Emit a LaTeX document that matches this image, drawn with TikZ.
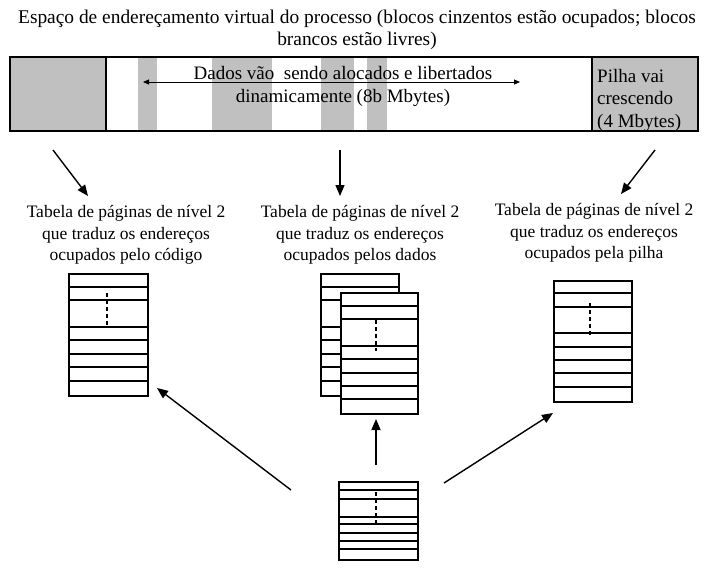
\documentclass[tikz,border=0pt]{standalone}
\usepackage{fontspec}
\setmainfont{Liberation Serif}
\usetikzlibrary{arrows.meta}
\definecolor{occupied}{RGB}{192,192,192}
\begin{document}
\begin{tikzpicture}[x=1pt,y=-1pt,
  txt/.style={font=\fontsize{17.5}{22}\selectfont, align=center, inner sep=0pt},
  frame/.style={draw=black, line width=1.8pt, inner sep=0pt, anchor=north west},
  tbl/.style={draw=black, line width=1.7pt, fill=white, inner sep=0pt, anchor=north west},
  row/.style={line width=1.7pt},
  gapline/.style={line width=1.1pt, dash pattern=on 4pt off 3pt},
  arr/.style={line width=1.4pt, -{Triangle[length=11pt,width=9pt]}},
  thinarr/.style={line width=0.9pt, {Triangle[length=6pt,width=5pt]}-{Triangle[length=6pt,width=5pt]}}
]
\useasboundingbox (0,0) rectangle (709,568);

% title
\node[txt, font=\fontsize{19.4}{22}\selectfont] (title) at (357,30) {Espaço de endereçamento virtual do processo (blocos cinzentos estão ocupados; blocos\\brancos estão livres)};

% virtual address space bar
\fill[occupied] (9,56) rectangle (106,130);
\foreach \a/\b in {138/157, 212/272, 321/354, 367/387}
  \fill[occupied] (\a,56) rectangle (\b,130);
\fill[occupied] (592,56) rectangle (697,130);
\node[frame, minimum width=688pt, minimum height=74pt] (bar) at (9,56) {};
\draw[line width=1.8pt] (106,56) -- (106,130);
\draw[line width=1.8pt] (592,56) -- (592,130);

\coordinate (dl) at (143,82);
\coordinate (dr) at (520,82);
\draw[thinarr] (dl) -- (dr);
\node[txt, font=\fontsize{19}{23}\selectfont] (dados) at (343,86) {Dados vão\ \ sendo alocados e libertados\\dinamicamente (8b Mbytes)};
\node[txt, align=left, anchor=west, font=\fontsize{19}{22.5}\selectfont] (pilha) at (597,100) {Pilha vai\\crescendo\\(4 Mbytes)};

% labels
\node[txt, font=\fontsize{17.5}{21.5}\selectfont] (lcode) at (126,235) {Tabela de páginas de nível 2\\que traduz os endereços\\ocupados pelo código};
\node[txt, font=\fontsize{17.5}{21.5}\selectfont] (ldata) at (360,235) {Tabela de páginas de nível 2\\que traduz os endereços\\ocupados pelos dados};
\node[txt, font=\fontsize{17.5}{21.5}\selectfont] (lstack) at (594,233) {Tabela de páginas de nível 2\\que traduz os endereços\\ocupados pela pilha};

% arrows from the bar to the labels
\coordinate (s1) at (53,150);  \coordinate (e1) at (88,196);
\coordinate (s2) at (340,150); \coordinate (e2) at (340,196);
\coordinate (s3) at (655,150); \coordinate (e3) at (621,194);
\draw[arr] (s1) -- (e1);
\draw[arr] (s2) -- (e2);
\draw[arr] (s3) -- (e3);

% code page table
\node[tbl, minimum width=79pt, minimum height=122pt] (tcode) at (68,273) {};
\foreach \y in {287,300,327,340,354,367,381}
  \draw[row] (68,\y) -- (147,\y);
\draw[gapline] (107,293) -- (107,326);

% data page tables (two, stacked)
\node[tbl, minimum width=78pt, minimum height=122pt] (tdataA) at (320,273) {};
\foreach \y in {287,300,327,340,354,367,381}
  \draw[row] (320,\y) -- (398,\y);
\node[tbl, minimum width=77pt, minimum height=121pt] (tdataB) at (340,292) {};
\foreach \y in {306,319,346,359,373,386,399}
  \draw[row] (340,\y) -- (417,\y);
\draw[gapline] (376,320) -- (376,351);

% stack page table
\node[tbl, minimum width=78pt, minimum height=121pt] (tstack) at (553,280) {};
\foreach \y in {293,307,333,347,360,373,387}
  \draw[row] (553,\y) -- (631,\y);
\draw[gapline] (590,303) -- (590,336);

% level 1 page table
\node[tbl, minimum width=79pt, minimum height=78pt] (troot) at (338,481) {};
\foreach \y in {490,499,517,524,533,541,549}
  \draw[row] (338,\y) -- (417,\y);
\draw[gapline] (376,492) -- (376,523);

% arrows from the level 1 table to the level 2 tables
\coordinate (r1) at (291,490); \coordinate (q1) at (157,388);
\coordinate (r2) at (376,465); \coordinate (q2) at (376,419);
\coordinate (r3) at (444,483); \coordinate (q3) at (553,413);
\draw[arr] (r1) -- (q1);
\draw[arr] (r2) -- (q2);
\draw[arr] (r3) -- (q3);
\end{tikzpicture}
\end{document}
